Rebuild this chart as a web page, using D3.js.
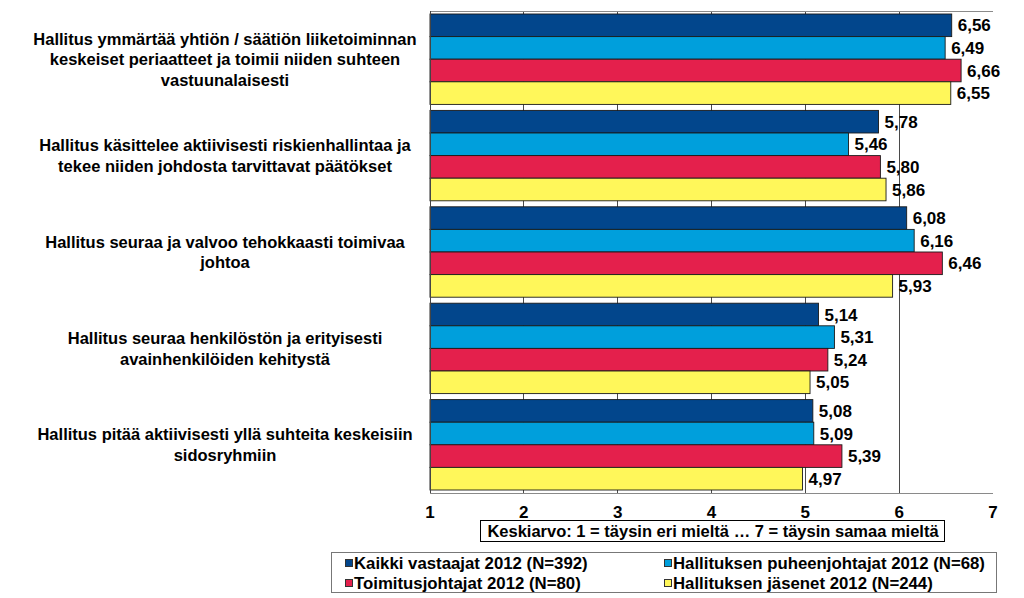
<!DOCTYPE html>
<html><head><meta charset="utf-8">
<script src="https://cdn.jsdelivr.net/npm/d3@7"></script>
<style>
html,body{margin:0;padding:0;background:#fff;}
text{font-family:"Liberation Sans",Arial,sans-serif;font-weight:bold;fill:#000;}
</style></head>
<body><svg id="c" width="1024" height="598"></svg>
<script>
const categories = [
  ["Hallitus ymmärtää yhtiön / säätiön liiketoiminnan","keskeiset periaatteet ja toimii niiden suhteen","vastuunalaisesti"],
  ["Hallitus käsittelee aktiivisesti riskienhallintaa ja","tekee niiden johdosta tarvittavat päätökset"],
  ["Hallitus seuraa ja valvoo tehokkaasti toimivaa","johtoa"],
  ["Hallitus seuraa henkilöstön ja erityisesti","avainhenkilöiden kehitystä"],
  ["Hallitus pitää aktiivisesti yllä suhteita keskeisiin","sidosryhmiin"]
];
const seriesNames = ["Kaikki vastaajat 2012 (N=392)","Hallituksen puheenjohtajat 2012 (N=68)","Toimitusjohtajat 2012 (N=80)","Hallituksen jäsenet 2012 (N=244)"];
const kaikki      = [6.56, 5.78, 6.08, 5.14, 5.08];
const puheenjoht  = [6.49, 5.46, 6.16, 5.31, 5.09];
const toimitusj   = [6.66, 5.80, 6.46, 5.24, 5.39];
const jasenet     = [6.55, 5.86, 5.93, 5.05, 4.97];
const seriesValues = [kaikki, puheenjoht, toimitusj, jasenet];
const colors = ["#02468C","#009FDC","#E4204C","#FFF75A"];
const tickValues = [1,2,3,4,5,6,7];
const axisTitle = "Keskiarvo: 1 = täysin eri mieltä … 7 = täysin samaa mieltä";

(function(){
const svg = d3.select("#c");
const pL = 430, pR = 993, pT = 11, pB = 493;
const x = d3.scaleLinear().domain([1,7]).range([pL,pR]);
const idx = categories.map((d,i)=>i);
const y0 = d3.scaleBand().domain(idx).range([pT,pB]).paddingInner(0.0622).paddingOuter(0.0311);
const y1 = d3.scaleBand().domain([0,1,2,3]).range([0,y0.bandwidth()]);
const fmt = v => d3.format(".2f")(v).replace(".",",");

svg.append("g").selectAll("line").data(tickValues.filter(t=>t>1 && t<7)).join("line")
  .attr("x1",d=>x(d)).attr("x2",d=>x(d)).attr("y1",pT).attr("y2",pB)
  .attr("stroke","#4a4a4a").attr("stroke-width",1).attr("shape-rendering","crispEdges");
svg.append("line").attr("x1",pL).attr("x2",pR).attr("y1",pT).attr("y2",pT).attr("stroke","#8a8a8a").attr("shape-rendering","crispEdges");
svg.append("line").attr("x1",pL).attr("x2",pR).attr("y1",pB).attr("y2",pB).attr("stroke","#8a8a8a").attr("shape-rendering","crispEdges");

const groups = svg.append("g").selectAll("g").data(idx).join("g")
  .attr("transform",i=>`translate(0,${y0(i)})`);
groups.selectAll("rect").data(i=>seriesValues.map((s,k)=>({k,v:s[i]}))).join("rect")
  .attr("x",x(1)).attr("y",d=>y1(d.k)).attr("width",d=>x(d.v)-x(1)).attr("height",y1.bandwidth())
  .attr("fill",d=>colors[d.k]).attr("stroke","#1a1a1a").attr("stroke-width",0.9);
groups.selectAll("text").data(i=>seriesValues.map((s,k)=>({k,v:s[i]}))).join("text")
  .attr("x",d=>x(d.v)+6).attr("y",d=>y1(d.k)+y1.bandwidth()/2).attr("dy","0.36em")
  .attr("font-size",17).text(d=>fmt(d.v));

svg.append("line").attr("x1",pL).attr("x2",pL).attr("y1",pT).attr("y2",pB).attr("stroke","#444").attr("shape-rendering","crispEdges");

const lh = 20.5;
svg.append("g").selectAll("text").data(idx).join("text")
  .attr("text-anchor","middle").attr("font-size",16.5)
  .each(function(i){
    const lines = categories[i];
    const cy = y0(i)+y0.bandwidth()/2;
    const t = d3.select(this);
    lines.forEach((ln,j)=>{
      t.append("tspan").attr("x",225).attr("y",cy+(j-(lines.length-1)/2)*lh).attr("dy","0.36em").text(ln);
    });
  });

svg.append("g").selectAll("text").data(tickValues).join("text")
  .attr("x",d=>x(d)).attr("y",512).attr("dy","0.36em").attr("text-anchor","middle")
  .attr("font-size",17).text(d=>d);

svg.append("rect").attr("x",480.5).attr("y",520.5).attr("width",464).attr("height",21).attr("fill","#fff").attr("stroke","#000");
svg.append("text").attr("x",713).attr("y",531).attr("dy","0.36em").attr("text-anchor","middle").attr("font-size",16.5).text(axisTitle);

svg.append("rect").attr("x",331.5).attr("y",552.5).attr("width",665).attr("height",40).attr("fill","#fff").attr("stroke","#777");
const legPos = [[345,563],[664,563],[345,583],[664,583]];
const lg = svg.append("g").selectAll("g").data(seriesNames).join("g")
  .attr("transform",(d,i)=>`translate(${legPos[i][0]},${legPos[i][1]})`);
lg.append("rect").attr("x",0.5).attr("y",-3.5).attr("width",7).attr("height",7).attr("fill",(d,i)=>colors[i]).attr("stroke","#333");
lg.append("text").attr("x",9).attr("y",0).attr("dy","0.36em").attr("font-size",16.8).text(d=>d);
})();
</script></body></html>
